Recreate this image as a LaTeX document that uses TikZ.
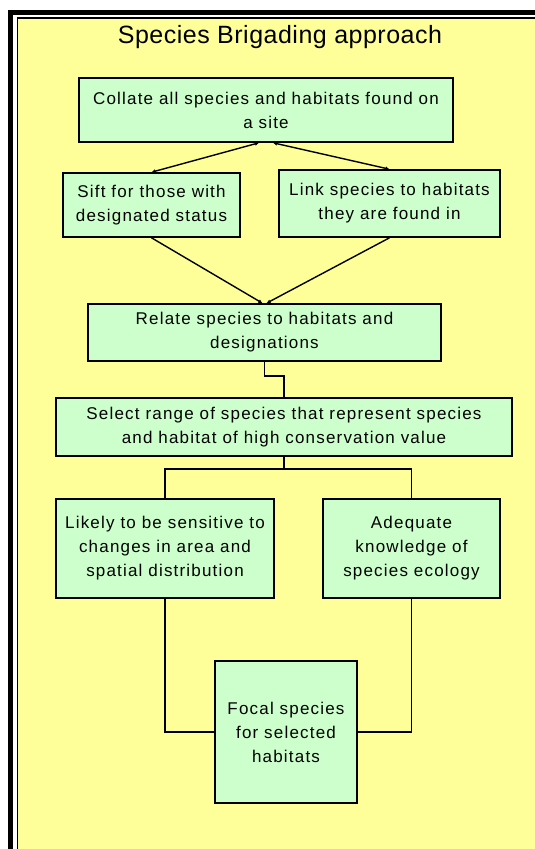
\documentclass[tikz,border=0pt]{standalone}
\usepackage{fontspec}
\setmainfont{Liberation Sans}[LetterSpace=7]
\usetikzlibrary{arrows.meta,calc}
\definecolor{paleyellow}{HTML}{FFFF99}
\definecolor{palegreen}{HTML}{CCFFCC}

\begin{document}
\begin{tikzpicture}[x=1pt, y=-1pt,
    box/.style={draw, line width=1.6pt, fill=palegreen, align=center, inner sep=2pt,
      font=\fontsize{17}{24}\selectfont},
    wire/.style={line width=1.4pt},
    tip/.style={{Latex[length=4pt,width=4pt]}-{Latex[length=4pt,width=4pt]}},
    endtip/.style={-{Latex[length=4pt,width=4pt]}}]
    \useasboundingbox (0,0) rectangle (535,849);
    \fill [white] (0,0) rectangle (535,849);
    \fill [black] (8,10) rectangle (535,849);
    \fill [white] (13.3,15) rectangle (535,849);
    \fill [black] (16.7,17.3) rectangle (535,849);
    \fill [paleyellow] (18.3,19) rectangle (535,849);

    \node (title) at (280,37) {\fontsize{25}{30}\selectfont\addfontfeature{LetterSpace=2}Species Brigading approach};
    \node [box, minimum width=374pt, minimum height=64pt] (collate) at (266,110)
      {Collate all species and habitats found on\\a site};
    \node [box, minimum width=177pt, minimum height=64pt] (sift) at (151.5,205)
      {Sift for those with\\designated status};
    \node [box, minimum width=221pt, minimum height=67pt] (habitats) at (389.5,203.5)
      {Link species to habitats\\they are found in};
    \node [box, minimum width=353pt, minimum height=57pt] (relate) at (264.5,332.5)
      {Relate species to habitats and\\designations};
    \node [box, minimum width=456pt, minimum height=58pt] (select) at (284,427)
      {Select range of species that represent species\\and habitat of high conservation value};
    \node [box, minimum width=218pt, minimum height=99pt] (sensitive) at (165,548.5)
      {Likely to be sensitive to\\changes in area and\\spatial distribution};
    \node [box, minimum width=177pt, minimum height=99pt] (ecology) at (411.5,548.5)
      {Adequate\\knowledge of\\species ecology};
    \node [box, minimum width=142pt, minimum height=142pt] (focal) at (286,732)
      {Focal species\\for selected\\habitats};

    \draw [wire, tip] ($(collate.south)+(-7,0)$) -- (sift.north);
    \draw [wire, tip] ($(collate.south)+(7,0)$) -- (habitats.north);
    \draw [wire, endtip] (sift.south) -- ($(relate.north)+(-2,0)$);
    \draw [wire, endtip] (habitats.south) -- ($(relate.north)+(2,0)$);
    \draw [wire] (relate.south) -- ++(0,14) -| (select.north);
    \draw [wire] (select.south) -- ++(0,12) -| (sensitive.north);
    \draw [wire] (select.south) -- ++(0,12) -| (ecology.north);
    \draw [wire] (sensitive.south) |- (focal.west);
    \draw [wire] (ecology.south) |- (focal.east);
\end{tikzpicture}
\end{document}
